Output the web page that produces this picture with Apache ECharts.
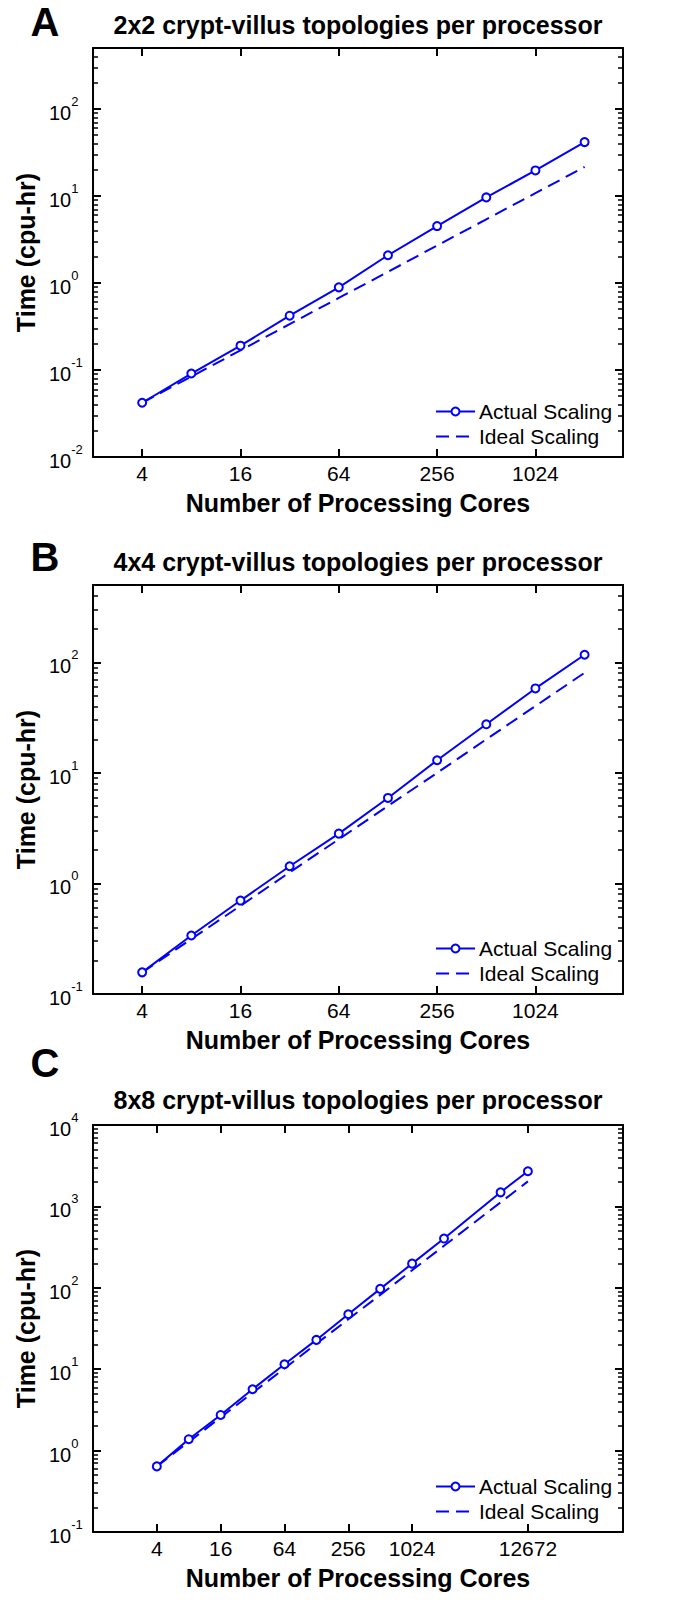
<!DOCTYPE html>
<html><head><meta charset="utf-8">
<script src="https://cdn.jsdelivr.net/npm/echarts@6/dist/echarts.min.js"></script>
<style>html,body{margin:0;padding:0;background:#fff}#c{width:692px;height:1600px}</style>
</head><body><div id="c"></div>
<script>
// ---- data ----
const coresAB = [4, 8, 16, 32, 64, 128, 256, 512, 1024, 2048];
const coresC = [4, 8, 16, 32, 64, 128, 256, 512, 1024, 2048, 7000, 12672];
const actualA = [0.042, 0.091, 0.19, 0.42, 0.89, 2.08, 4.5, 9.6, 19.6, 41.5];
const idealA = [0.042, 0.084, 0.168, 0.336, 0.672, 1.34, 2.69, 5.38, 10.75, 21.5];
const actualB = [0.157, 0.338, 0.70, 1.43, 2.82, 5.93, 13.0, 27.5, 58, 117];
const idealB = [0.157, 0.314, 0.628, 1.26, 2.51, 5.02, 10.0, 20.1, 40.2, 80.4];
const actualC = [0.64, 1.38, 2.74, 5.67, 11.5, 22.9, 47.3, 97, 198, 403, 1489, 2704];
const idealC = [0.64, 1.28, 2.56, 5.12, 10.2, 20.5, 41.0, 81.9, 164, 328, 1120, 2028];
const xTicksAB = [4, 16, 64, 256, 1024];
const xTicksC = [4, 16, 64, 256, 1024, 12672];
const yTicksA = [0.01, 0.1, 1, 10, 100];
const yTicksB = [0.1, 1, 10, 100];
const yTicksC = [0.1, 1, 10, 100, 1000, 10000];
const panelLetters = ['A', 'B', 'C'];
const panelTitles = ['2x2 crypt-villus topologies per processor', '4x4 crypt-villus topologies per processor', '8x8 crypt-villus topologies per processor'];
const seriesNames = ['Actual Scaling', 'Ideal Scaling'];
const xTitle = 'Number of Processing Cores';
const yTitle = 'Time (cpu-hr)';

// ---- layout ----
const FONT = '"Liberation Sans", Arial, Helvetica, sans-serif';
const BLUE = '#0000ff';
const panels = [
  {cores: coresAB, actual: actualA, ideal: idealA, xTicks: xTicksAB, yTicks: yTicksA, top: 48, h: 409, xMin: 2, xMax: 3520, yMin: 0.01, yMax: 500, titleY: 25, letterY: 22},
  {cores: coresAB, actual: actualB, ideal: idealB, xTicks: xTicksAB, yTicks: yTicksB, top: 585, h: 409, xMin: 2, xMax: 3520, yMin: 0.1, yMax: 500, titleY: 562, letterY: 557},
  {cores: coresC, actual: actualC, ideal: idealC, xTicks: xTicksC, yTicks: yTicksC, top: 1125, h: 407, xMin: 1, xMax: 100000, yMin: 0.1, yMax: 10000, titleY: 1100, letterY: 1063}
];
const LEFT = 93, RIGHT = 69, PLOT_CX = 358;

// minor log ticks (2..9 x each decade) strictly inside an axis range
function minorTicks(lo, hi) {
  const out = [];
  for (let k = Math.floor(Math.log10(lo)); k <= Math.ceil(Math.log10(hi)); k++) {
    for (let m = 2; m <= 9; m++) {
      const v = parseFloat((m * Math.pow(10, k)).toPrecision(6));
      if (v > lo && v < hi) out.push(v);
    }
  }
  return out;
}

const grid = [], xAxis = [], yAxis = [], series = [], title = [], legend = [];
const lineAxis = {show: true, onZero: false, lineStyle: {color: '#000', width: 2}};
const tickStyle = {color: '#000', width: 2};
const expLabel = v => { const e = Math.log10(v), r = Math.round(e); return Math.abs(e - r) > 1e-6 ? '' : '{b|10}{e|' + r + '}'; };

panels.forEach((p, i) => {
  grid.push({left: LEFT, right: RIGHT, top: p.top, height: p.h, containLabel: false});
  ['bottom', 'top'].forEach((pos, k) => {
    xAxis.push({
      type: 'log', logBase: 2, gridIndex: i, position: pos, min: p.xMin, max: p.xMax,
      axisLine: lineAxis,
      axisTick: {show: true, inside: true, length: 8, lineStyle: tickStyle, customValues: p.xTicks},
      minorTick: {show: false},
      splitLine: {show: false},
      axisLabel: k === 0 ? {show: true, customValues: p.xTicks, margin: 6, color: '#000', fontSize: 21, fontFamily: FONT,
        formatter: v => String(Math.round(v))} : {show: false},
      name: k === 0 ? xTitle : '', nameLocation: 'middle', nameGap: 33,
      nameTextStyle: {fontSize: 25, fontWeight: 'bold', color: '#000', fontFamily: FONT}
    });
  });
  const minors = minorTicks(p.yMin, p.yMax);
  // major y axes: left (labels + name) and right (mirror)
  ['left', 'right'].forEach((pos, k) => {
    yAxis.push({
      type: 'log', logBase: 10, gridIndex: i, position: pos, min: p.yMin, max: p.yMax,
      axisLine: lineAxis,
      axisTick: {show: true, inside: true, length: 8, lineStyle: tickStyle, customValues: p.yTicks},
      minorTick: {show: false},
      splitLine: {show: false}, minorSplitLine: {show: false},
      axisLabel: k === 0 ? {show: true, customValues: p.yTicks, align: 'left', margin: 44, color: '#000', fontFamily: FONT,
        formatter: expLabel,
        rich: {b: {fontSize: 20, lineHeight: 28, verticalAlign: 'bottom', color: '#000', fontFamily: FONT},
               e: {fontSize: 13, verticalAlign: 'top', color: '#000', fontFamily: FONT}}} : {show: false},
      name: k === 0 ? yTitle : '', nameLocation: 'middle', nameRotate: 90, nameGap: 52,
      nameTextStyle: {fontSize: 25, fontWeight: 'bold', color: '#000', fontFamily: FONT}
    });
  });
  // minor log ticks on both sides
  ['left', 'right'].forEach(pos => {
    yAxis.push({
      type: 'log', logBase: 10, gridIndex: i, position: pos, min: p.yMin, max: p.yMax,
      axisLine: {show: false},
      axisTick: {show: true, inside: true, length: 5, lineStyle: {color: '#000', width: 1.5}, customValues: minors},
      minorTick: {show: false},
      splitLine: {show: false}, minorSplitLine: {show: false},
      axisLabel: {show: false}
    });
  });
  series.push({
    type: 'line', name: seriesNames[0], xAxisIndex: 2 * i, yAxisIndex: 4 * i,
    data: p.cores.map((c, j) => [c, p.actual[j]]),
    symbol: 'emptyCircle', symbolSize: 8, showSymbol: true,
    lineStyle: {color: BLUE, width: 2}, itemStyle: {color: BLUE, borderColor: BLUE, borderWidth: 2},
    animation: false, z: 3
  });
  series.push({
    type: 'line', name: seriesNames[1], xAxisIndex: 2 * i, yAxisIndex: 4 * i,
    data: p.cores.map((c, j) => [c, p.ideal[j]]),
    symbol: 'none', showSymbol: false,
    lineStyle: {color: BLUE, width: 2, type: [13, 7]}, itemStyle: {color: BLUE},
    animation: false, z: 2
  });
  title.push({text: panelLetters[i], left: 45, top: p.letterY, textAlign: 'center', textVerticalAlign: 'middle', padding: 0,
    textStyle: {fontSize: 40, fontWeight: 'bold', color: '#000', fontFamily: FONT}});
  title.push({text: panelTitles[i], left: PLOT_CX, top: p.titleY, textAlign: 'center', textVerticalAlign: 'middle', padding: 0,
    textStyle: {fontSize: 25, fontWeight: 'bold', color: '#000', fontFamily: FONT}});
  const bottom = p.top + p.h;
  legend.push({
    data: [{name: seriesNames[0]}, {name: seriesNames[1], itemStyle: {opacity: 0, color: 'rgba(0,0,0,0)', borderColor: 'rgba(0,0,0,0)'}}],
    orient: 'vertical', left: 435, top: bottom - 56, padding: 0,
    itemWidth: 39, itemHeight: 10, itemGap: 4, selectedMode: false,
    textStyle: {fontSize: 21, color: '#000', fontFamily: FONT, padding: [0, 0, 0, -1]}
  });
});

const chart = echarts.init(document.getElementById('c'), null, {renderer: 'svg', width: 692, height: 1600});
chart.setOption({backgroundColor: '#fff', animation: false, title, legend, grid, xAxis, yAxis, series});
</script></body></html>
